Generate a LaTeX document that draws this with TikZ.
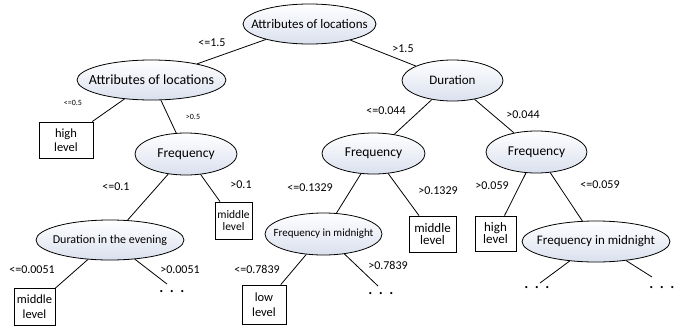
\documentclass[tikz,border=0pt]{standalone}
\usepackage{fontspec}
\setmainfont{Carlito}
\usetikzlibrary{shapes.geometric, positioning}
\definecolor{attrshade}{RGB}{218, 224, 238}
\newcommand{\attrtext}[1]{\makebox[0pt]{#1}}

\begin{document}
\begin{tikzpicture}[
    x=1pt, y=-1pt, line width=0.8pt,
    attr/.style={draw, ellipse, top color=white, bottom color=attrshade, inner sep=0pt, font=\fontsize{13}{14}\selectfont},
    leaf/.style={draw, rectangle, inner sep=0pt, align=center},
    lbl/.style={inner sep=0pt, font=\fontsize{12}{13}\selectfont},
    small/.style={inner sep=0pt, font=\fontsize{8}{9}\selectfont},
    dots/.style={inner sep=0pt, font=\fontsize{18}{18}\selectfont}
]
\useasboundingbox (0,0) rectangle (694,330);

% attribute nodes
\node[attr, minimum width=133, minimum height=40] (root) at (309.5,24) {\attrtext{Attributes of locations}};
\node[attr, minimum width=149, minimum height=40, font=\fontsize{14}{15}\selectfont] (loc) at (151.5,80) {\attrtext{Attributes of locations}};
\node[attr, minimum width=101, minimum height=41] (dur) at (452.5,80.5) {\attrtext{Duration}};
\node[attr, minimum width=102, minimum height=42, font=\fontsize{13.5}{15}\selectfont] (freqA) at (186,154) {\attrtext{Frequency}};
\node[attr, minimum width=103, minimum height=41, font=\fontsize{13.5}{15}\selectfont] (freqB) at (373.5,153.5) {\attrtext{Frequency}};
\node[attr, minimum width=101, minimum height=42, font=\fontsize{13.5}{15}\selectfont] (freqC) at (536.5,152) {\attrtext{Frequency}};
\node[attr, minimum width=148, minimum height=40, font=\fontsize{12}{13}\selectfont] (eve) at (110,240) {\attrtext{Duration in the evening}};
\node[attr, minimum width=117, minimum height=42, font=\fontsize{11}{12}\selectfont] (midB) at (323.5,234) {\attrtext{Frequency in midnight}};
\node[attr, minimum width=148, minimum height=41] (midC) at (596,241.5) {\attrtext{Frequency in midnight}};

% leaves
\node[leaf, minimum width=54, minimum height=36, font=\fontsize{12.5}{14}\selectfont] (highA) at (66,140) {high\\level};
\node[leaf, minimum width=37, minimum height=37, font=\fontsize{11.5}{12.5}\selectfont] (middleA) at (233.5,220.5) {middle\\level};
\node[leaf, minimum width=47, minimum height=36, font=\fontsize{13}{12.5}\selectfont] (middleB) at (432.5,234) {middle\\level};
\node[leaf, minimum width=41, minimum height=35, font=\fontsize{13}{12}\selectfont] (highC) at (495.5,233.5) {high\\level};
\node[leaf, minimum width=41, minimum height=37, font=\fontsize{12.5}{15}\selectfont] (middleE) at (34.5,306.5) {middle\\level};
\node[leaf, minimum width=44, minimum height=39, font=\fontsize{12.5}{15}\selectfont] (low) at (264,304.5) {low\\level};

% open branches
\coordinate (endE) at (167,284);
\coordinate (endB) at (378,286);
\coordinate (endL) at (540,283);
\coordinate (endR) at (652,277);
\node[dots] (dotsE) at (172,292) {.\,\,.\,\,.};
\node[dots] (dotsB) at (381,294) {.\,\,.\,\,.};
\node[dots] (dotsL) at (537,288) {.\,\,.\,\,.};
\node[dots] (dotsR) at (662,288) {.\,\,.\,\,.};

% branches
\draw (root) -- (loc);
\draw (root) -- (dur);
\draw (loc) -- (highA);
\draw (loc) -- (freqA);
\draw (dur) -- (freqB);
\draw (dur) -- (freqC);
\draw (freqA) -- (eve);
\draw (freqA) -- (middleA);
\draw (freqB) -- (midB);
\draw (freqB) -- (middleB);
\draw (freqC) -- (highC);
\draw (freqC) -- (midC);
\draw (eve) -- (middleE);
\draw (eve) -- (endE);
\draw (midB) -- (low);
\draw (midB) -- (endB);
\draw (midC) -- (endL);
\draw (midC) -- (endR);

% split labels
\node[lbl] (c1) at (212,43) {<=1.5};
\node[lbl] (c2) at (403,49) {>1.5};
\node[small] (c3) at (73,103) {<=0.5};
\node[small] (c4) at (193,117) {>0.5};
\node[lbl] (c5) at (386,111) {<=0.044};
\node[lbl] (c6) at (523,115) {>0.044};
\node[lbl] (c7) at (116,187) {<=0.1};
\node[lbl] (c8) at (241,185) {>0.1};
\node[lbl] (c9) at (310,188) {<=0.1329};
\node[lbl] (c10) at (438,191) {>0.1329};
\node[lbl] (c11) at (492,186) {>0.059};
\node[lbl] (c12) at (600,185) {<=0.059};
\node[lbl] (c13) at (32,270) {<=0.0051};
\node[lbl] (c14) at (180,270) {>0.0051};
\node[lbl] (c15) at (257,269) {<=0.7839};
\node[lbl] (c16) at (388,265) {>0.7839};

\end{tikzpicture}
\end{document}
